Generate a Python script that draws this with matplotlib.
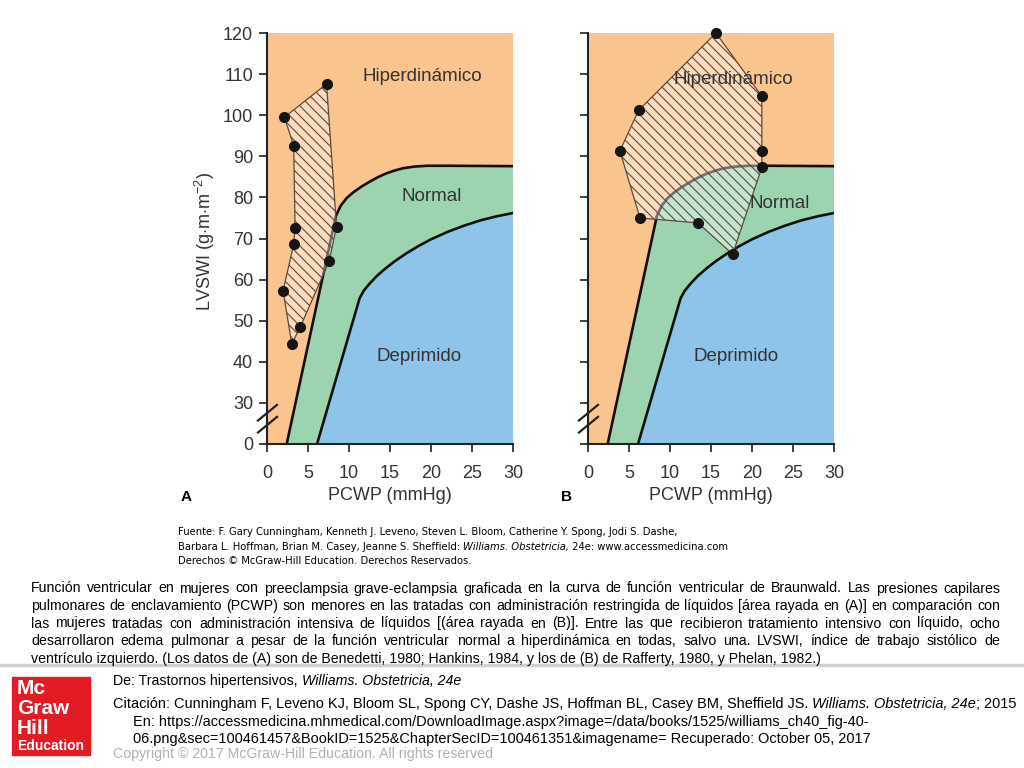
import matplotlib
matplotlib.use("Agg")
import matplotlib.pyplot as plt
from matplotlib.patches import Polygon, Rectangle
import numpy as np

plt.rcParams['font.family'] = ['Liberation Sans', 'DejaVu Sans']
plt.rcParams['mathtext.fontset'] = 'custom'
plt.rcParams['mathtext.rm'] = 'Liberation Sans'
plt.rcParams['mathtext.it'] = 'Liberation Sans:italic'

# --- data (y axis is broken, 20 is shown as "0") ---
xticks = [0, 5, 10, 15, 20, 25, 30]
yticks = [20, 30, 40, 50, 60, 70, 80, 90, 100, 110, 120]
ytick_labels = ['0', '30', '40', '50', '60', '70', '80', '90', '100', '110', '120']

# boundary hyperdynamic / normal
upper_x = [2.4, 8.4, 9.0, 9.7, 10.5, 11.5, 12.5, 13.5, 14.5, 15.5, 16.6, 18.0, 19.5, 22.0, 30.0]
upper_y = [20.0, 75.5, 78.0, 79.8, 81.2, 82.6, 83.8, 84.9, 85.8, 86.5, 87.1, 87.5, 87.7, 87.7, 87.6]
# boundary normal / depressed
lower_x = [6.1, 11.3, 11.8, 12.5, 13.4, 14.5, 15.6, 17.0, 18.5, 20.0, 22.0, 24.0, 26.0, 28.0, 30.0]
lower_y = [20.0, 55.5, 57.3, 59.0, 60.9, 62.8, 64.5, 66.4, 68.2, 69.8, 71.6, 73.1, 74.4, 75.4, 76.2]

# patients, panel A (restricted fluids) and panel B (aggressive fluids)
a_pcwp = [7.26, 8.48, 7.58, 4.04, 3.02, 1.96, 3.26, 3.42, 3.26, 2.12]
a_lvswi = [107.6, 72.9, 64.5, 48.4, 44.4, 57.3, 68.6, 72.6, 92.6, 99.5]
b_pcwp = [15.6, 21.2, 21.2, 21.2, 17.64, 13.4, 6.34, 3.89, 6.18]
b_lvswi = [120.0, 104.6, 91.3, 87.3, 66.2, 73.8, 75.0, 91.3, 101.2]

regions = ['Hiperdinámico', 'Normal', 'Deprimido']

caption = [
    "Función ventricular en mujeres con preeclampsia grave-eclampsia graficada en la curva de función ventricular de Braunwald. Las presiones capilares",
    "pulmonares de enclavamiento (PCWP) son menores en las tratadas con administración restringida de líquidos [área rayada en (A)] en comparación con",
    "las mujeres tratadas con administración intensiva de líquidos [(área rayada en (B)]. Entre las que recibieron tratamiento intensivo con líquido, ocho",
    "desarrollaron edema pulmonar a pesar de la función ventricular normal a hiperdinámica en todas, salvo una. LVSWI, índice de trabajo sistólico de",
    "ventrículo izquierdo. (Los datos de (A) son de Benedetti, 1980; Hankins, 1984, y los de (B) de Rafferty, 1980, y Phelan, 1982.)",
]

ORANGE = '#f9c48e'
GREEN = '#9dd4b0'
BLUE = '#8ec3ea'
HATCH = '#5b4a3c'
TXT = '#333333'

W, H = 1024, 768
fig = plt.figure(figsize=(10.24, 7.68), dpi=100)
renderer = fig.canvas.get_renderer()


def fx(x):
    return x / W


def fy(y):
    return 1 - y / H


def parts_line(x, y, parts, size, family=None, color='black', width=None):
    # draws normal/italic pieces one after another; optionally fit to a width
    def draw(sz):
        cur = x
        made = []
        for s, style in parts:
            t = fig.text(fx(cur), fy(y), s, fontsize=sz, style=style, color=color,
                         va='baseline', ha='left', family=family)
            made.append(t)
            cur += t.get_window_extent(renderer).width
        return cur, made
    end, made = draw(size)
    if width is not None:
        for t in made:
            t.remove()
        end, made = draw(size * width / (end - x))
    return end


def justify(x0, x1, y, line, size, last=False):
    if last:
        fig.text(fx(x0), fy(y), line, fontsize=size, va='baseline', ha='left')
        return
    words = line.split(' ')
    texts = [fig.text(fx(x0), fy(y), w, fontsize=size, va='baseline', ha='left') for w in words]
    widths = [t.get_window_extent(renderer).width for t in texts]
    gap = (x1 - x0 - sum(widths)) / (len(words) - 1)
    cur = x0
    for t, w in zip(texts, widths):
        t.set_x(fx(cur))
        cur += w + gap


def panel(left, px_, py_, label_pos, show_ticklabels):
    ax = fig.add_axes([fx(left), fy(444), 246 / W, 411 / H])
    ax.set_facecolor(ORANGE)
    ax.set_xlim(0, 30)
    ax.set_ylim(20, 120)
    ax.fill(upper_x + [30], upper_y + [20], color=GREEN, lw=0, zorder=1)
    ax.fill(lower_x + [30], lower_y + [20], color=BLUE, lw=0, zorder=1)
    ax.plot(upper_x, upper_y, color='#111111', lw=1.9, zorder=2)
    ax.plot(lower_x, lower_y, color='#111111', lw=1.9, zorder=2)

    poly = Polygon(np.column_stack([px_, py_]), closed=True, fc=(1, 1, 1, 0.4),
                   ec=HATCH, lw=0.9, zorder=3)
    ax.add_patch(poly)
    # hatching, ~10 px apart at 45 degrees
    for k in range(-45, 26):
        x0 = k * 10 / 246
        ln, = ax.plot([x0, x0 + 411 / 246], [1, 0], transform=ax.transAxes,
                      color=HATCH, lw=0.8, zorder=3)
        ln.set_clip_path(poly)
    ax.plot(px_, py_, 'o', color='#151515', ms=7, zorder=5, clip_on=False)

    for name, (tx, ty) in zip(regions, label_pos):
        ax.text(tx, ty, name, fontsize=13.5, color=TXT, ha='center', va='center', zorder=4)

    for side in ['top', 'right']:
        ax.spines[side].set_visible(False)
    for side in ['left', 'bottom']:
        ax.spines[side].set_linewidth(1.5)
        ax.spines[side].set_color('#222222')
    ax.set_xticks(xticks)
    ax.set_yticks(yticks)
    ax.set_xticklabels([str(v) for v in xticks])
    ax.set_yticklabels(ytick_labels if show_ticklabels else [])
    ax.tick_params(direction='out', length=6, width=1.3, color='#333333',
                   labelsize=13, labelcolor=TXT)
    ax.tick_params(axis='x', pad=9)
    ax.tick_params(axis='y', pad=4)

    # axis break marks
    for off in [0.0, 12 / 411]:
        ax.plot([-9 / 246, 10 / 246], [0.028 + off, 0.066 + off], transform=ax.transAxes,
                color='#222222', lw=1.6, clip_on=False, zorder=6)
    return ax


panel(267, a_pcwp, a_lvswi, [(19.0, 109.5), (20.1, 80.3), (18.5, 41.4)], True)
panel(588, b_pcwp, b_lvswi, [(17.7, 108.6), (23.4, 78.4), (18.1, 41.4)], False)

fig.text(fx(205), fy(242), 'LVSWI (g$\\cdot$m$\\cdot$m$^{-2}$)', rotation=90,
         fontsize=13, color=TXT, ha='center', va='center')
fig.text(fx(390), fy(496), 'PCWP (mmHg)', fontsize=13, color=TXT, ha='center', va='center')
fig.text(fx(711), fy(496), 'PCWP (mmHg)', fontsize=13, color=TXT, ha='center', va='center')
fig.text(fx(186), fy(497), 'A', fontsize=11, weight='bold', ha='center', va='center')
fig.text(fx(566), fy(497), 'B', fontsize=11, weight='bold', ha='center', va='center')

# source block
src = ['DejaVu Sans']
parts_line(178, 535, [("Fuente: F. Gary Cunningham, Kenneth J. Leveno, Steven L. Bloom, Catherine Y. Spong, Jodi S. Dashe,", 'normal')], 7.2, src)
parts_line(178, 550, [("Barbara L. Hoffman, Brian M. Casey, Jeanne S. Sheffield: ", 'normal'),
                      ("Williams. Obstetricia,", 'italic'),
                      (" 24e: www.accessmedicina.com", 'normal')], 7.2, src)
parts_line(178, 564, [("Derechos © McGraw-Hill Education. Derechos Reservados.", 'normal')], 7.2, src)

# caption, justified
ys = [592.5, 610, 627.5, 645, 662.5]
for i, (line, y) in enumerate(zip(caption, ys)):
    justify(31, 1000, y, line, 10.2, last=(i == len(caption) - 1))

fig.add_artist(plt.Line2D([0, 1], [fy(665), fy(665)], color='#cfcfcf', lw=2.5))

# footer
fig.add_artist(Rectangle((fx(12), fy(755)), 78 / W, 78 / H, color='#e31b23'))
for s, y, sz in [('Mc', 688, 15), ('Graw', 708, 15), ('Hill', 728, 15), ('Education', 746, 10)]:
    fig.text(fx(17), fy(y), s, fontsize=sz, weight='bold', color='white', va='center', ha='left')

parts_line(113, 685, [("De: Trastornos hipertensivos, ", 'normal'),
                      ("Williams. Obstetricia, 24e", 'italic')], 10.2)
parts_line(113, 708, [("Citación: Cunningham F, Leveno KJ, Bloom SL, Spong CY, Dashe JS, Hoffman BL, Casey BM, Sheffield JS. ", 'normal'),
                      ("Williams. Obstetricia, 24e", 'italic'),
                      ("; 2015", 'normal')], 10.2, width=902)
parts_line(133, 726, [("En: https://accessmedicina.mhmedical.com/DownloadImage.aspx?image=/data/books/1525/williams_ch40_fig-40-", 'normal')], 10.2, width=733)
parts_line(133, 743, [("06.png&sec=100461457&BookID=1525&ChapterSecID=100461351&imagename= Recuperado: October 05, 2017", 'normal')], 10.2, width=733)
parts_line(113, 758, [("Copyright © 2017 McGraw-Hill Education. All rights reserved", 'normal')], 10.2,
           color='#b0b0b0', width=380)

fig.savefig('out.png', dpi=100)
